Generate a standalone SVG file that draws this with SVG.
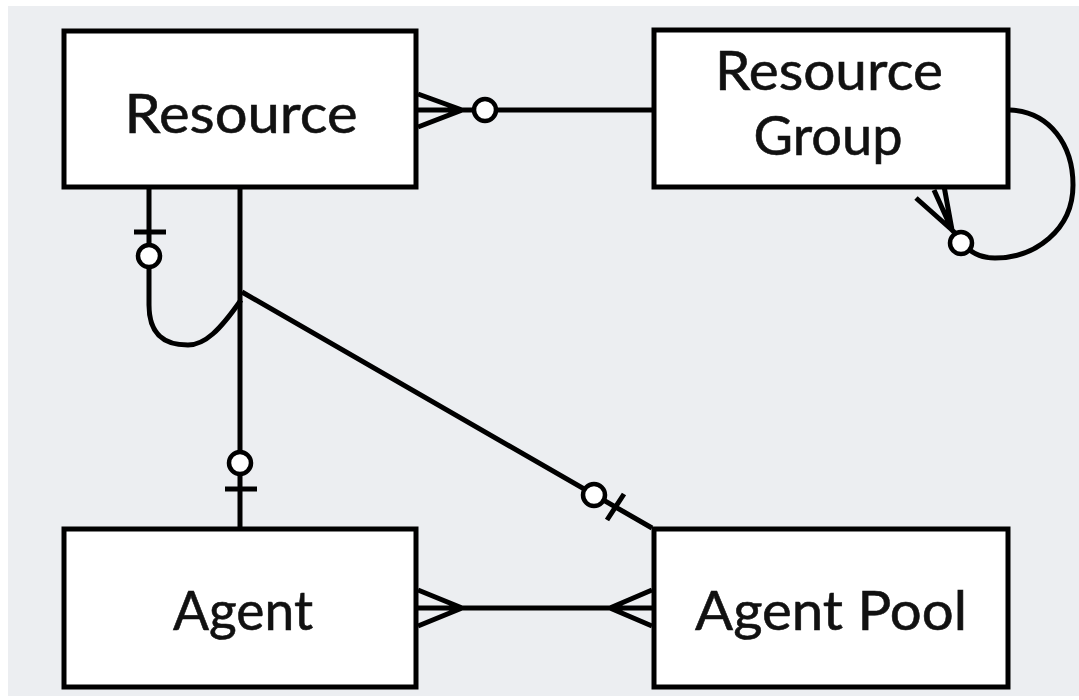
<svg xmlns="http://www.w3.org/2000/svg" width="1079" height="700" viewBox="0 0 1079 700">
<style>
.box{fill:#fff;stroke:#000;stroke-width:5}
.ln{fill:none;stroke:#000;stroke-width:5;stroke-linecap:butt}
.ci{fill:#fff;stroke:#000;stroke-width:4.5}
.t{font-family:Lato,"Open Sans","Liberation Sans",sans-serif;font-size:55px;fill:#111;stroke:#111;stroke-width:0.6;text-anchor:middle}
</style>
<rect x="0" y="0" width="1079" height="700" fill="#fff"/>
<rect x="8" y="6" width="1071" height="690" fill="#eceef1"/>
<g id="connectors">
  <path class="ln" d="M418,110 H652 M418,94 L462,110 L418,127"/>
  <circle class="ci" cx="485" cy="110" r="11"/>
  <path class="ln" d="M1010,110 C1050,112 1073,145 1073,185 C1073,230 1035,258 995,258 C982,258 975,254 968,249"/>
  <path class="ln" d="M916,198 L952,230 M934,190 L952,230 M944,186 L952,230 L956,234"/>
  <circle class="ci" cx="961" cy="243" r="11"/>
  <path class="ln" d="M240,188 V527 M225,489 H257"/>
  <circle class="ci" cx="240" cy="463" r="11"/>
  <path class="ln" d="M149,188 V245 M134,232 H166 M149,267 V305 C149,335 165,345 188,345 C205,345 220,330 241,300"/>
  <circle class="ci" cx="149" cy="256" r="11"/>
  <path class="ln" d="M242,292 L652,528 M607,520 L624,494"/>
  <circle class="ci" cx="594" cy="495" r="11"/>
  <path class="ln" d="M418,608 H652 M418,590 L462,608 L418,626 M652,590 L610,608 L652,626"/>
</g>
<g id="resource">
  <rect class="box" x="64" y="31" width="352" height="156"/>
  <text class="t" x="241" y="133" textLength="233" lengthAdjust="spacingAndGlyphs">Resource</text>
</g>
<g id="resource-group">
  <rect class="box" x="654" y="30" width="354" height="157"/>
  <text class="t" x="829" y="90" textLength="228" lengthAdjust="spacingAndGlyphs">Resource</text>
  <text class="t" x="828" y="155" textLength="149" lengthAdjust="spacingAndGlyphs">Group</text>
</g>
<g id="agent">
  <rect class="box" x="64" y="529" width="352" height="158"/>
  <text class="t" x="243" y="630" textLength="140" lengthAdjust="spacingAndGlyphs">Agent</text>
</g>
<g id="agent-pool">
  <rect class="box" x="654" y="529" width="354" height="158"/>
  <text class="t" x="831" y="630" textLength="272" lengthAdjust="spacingAndGlyphs">Agent Pool</text>
</g>
</svg>
